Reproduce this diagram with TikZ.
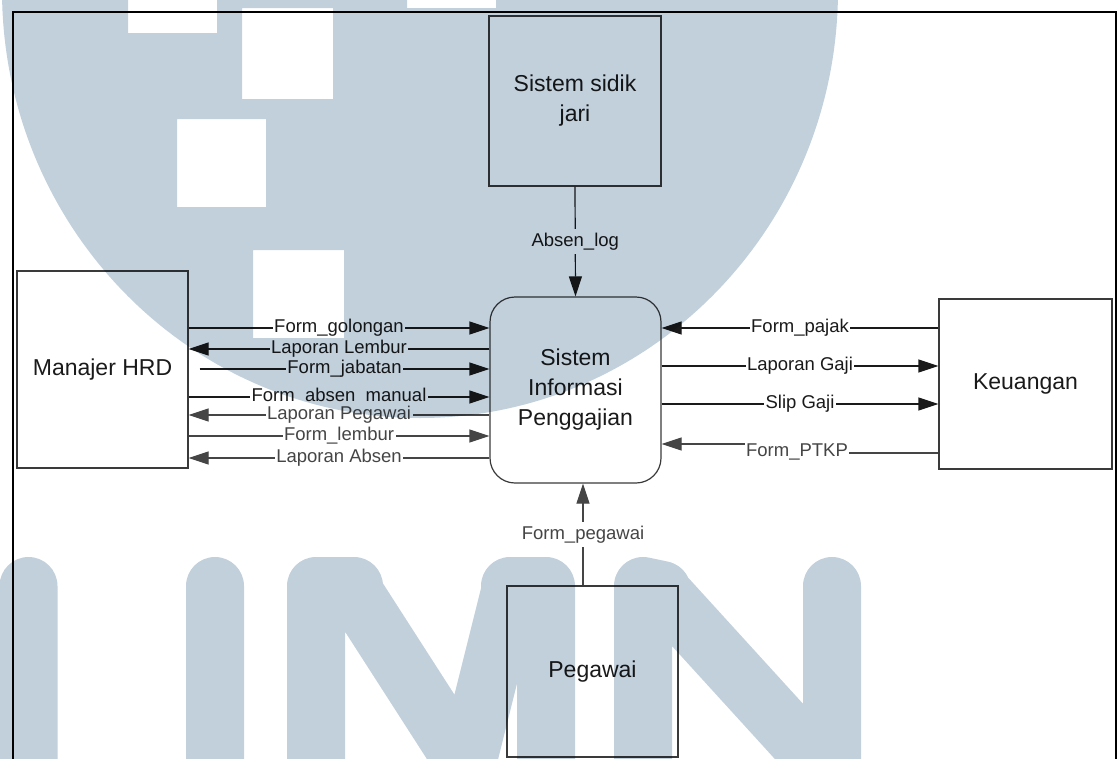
\documentclass[tikz,border=0pt]{standalone}
\usepackage{fontspec}
\setmainfont{Liberation Sans}
\usetikzlibrary{arrows.meta}

\definecolor{ink}{HTML}{1A1A1A}
\definecolor{inkgray}{HTML}{454545}
\definecolor{boxline}{HTML}{3A3A3A}
\definecolor{wmblue}{HTML}{C2D0DC}

\tikzset{
  entity/.style={draw=boxline, line width=1.2pt, align=center, inner sep=0pt,
    font=\fontsize{23}{30}\selectfont, text=ink},
  flow/.style={draw=ink, line width=1.2pt, -{Triangle[length=20pt,width=13pt]}},
  flowgray/.style={flow, draw=inkgray},
  lbl/.style={fill=white, inner xsep=1.5pt, inner ysep=3.5pt, font=\fontsize{18.5}{20}\selectfont, text=ink},
  lblgray/.style={lbl, text=inkgray},
}

\begin{document}
\begin{tikzpicture}[x=1pt, y=-1pt, line cap=butt, line join=miter]

  %% ==== frame ====
  \draw[black, line width=2.5pt] (13,780) -- (13,12) -- (1116,12) -- (1116,780);

  %% ==== entities ====
  \node[entity, minimum width=172pt, minimum height=170pt] (sidik) at (575,101) {Sistem sidik\\jari};
  \node[entity, rounded corners=25pt, minimum width=171pt, minimum height=186pt] (proc) at (575.5,390) {Sistem\\Informasi\\Penggajian};
  \node[entity, minimum width=171pt, minimum height=197pt] (hrd) at (102.5,369.5) {Manajer HRD};
  \node[entity, minimum width=173pt, minimum height=170pt] (keu) at (1025.5,384) {Keuangan};
  \node[entity, minimum width=171pt, minimum height=171pt] (pgw) at (592.5,671.5) {Pegawai};

  %% ==== flows: Manajer HRD <-> proses ====
  \draw[flow] (hrd.east |- 0,328) -- node[lbl] {Form\_golongan} (proc.west |- 0,328);
  \draw[flow] (proc.west |- 0,349) -- node[lbl] {Laporan Lembur} (hrd.east |- 0,349);
  \draw[flow] ([xshift=11pt]hrd.east |- 0,369) -- node[lbl] {Form\_jabatan} (proc.west |- 0,369);
  \draw[flow] (hrd.east |- 0,397) -- node[lbl] {Form\_absen\_manual} (proc.west |- 0,397);
  \draw[flowgray] (proc.west |- 0,415) -- node[lblgray] {Laporan Pegawai} (hrd.east |- 0,415);
  \draw[flowgray] (hrd.east |- 0,436) -- node[lblgray] {Form\_lembur} (proc.west |- 0,436);
  \draw[flowgray] (proc.west |- 0,458) -- node[lblgray] {Laporan Absen} (hrd.east |- 0,458);

  %% ==== flows: proses <-> Keuangan ====
  \draw[flow] (keu.west |- 0,328) -- node[lbl] {Form\_pajak} (proc.east |- 0,328);
  \draw[flow] (proc.east |- 0,366) -- node[lbl] {Laporan Gaji} (keu.west |- 0,366);
  \draw[flow] (proc.east |- 0,404) -- node[lbl] {Slip Gaji} (keu.west |- 0,404);
  \draw[flowgray] (keu.west |- 0,453) -- (770,453) -- (770,444) -- (proc.east |- 0,444);
  \node[lblgray] (ptkp) at (797,452) {Form\_PTKP};

  %% ==== flows: vertical ====
  \draw[flow] (sidik.south) -- node[lbl] {Absen\_log} (proc.north);
  \draw[flowgray] ([xshift=-9.5pt]pgw.north) -- node[lblgray] {Form\_pegawai} ([xshift=-9.5pt]pgw.north |- proc.south);

  %% ==== watermark (multiply, over everything) ====
  %% one path per paint so overlaps are not darkened twice
  \begin{scope}[blend mode=multiply]
    \fill[wmblue, even odd rule] (420,-10) ellipse (418 and 428)
      (128,-60) rectangle (217,33) (242,8) rectangle (333,99)
      (177,119) rectangle (266,207) (253,250) rectangle (344,338)
      (407,-80) rectangle (496,8);
    \draw[wmblue, line width=58pt, line cap=round]
      (28.5,800) -- (28.5,586)   (215,800) -- (215,586)            % U
      (316,800) -- (316,586)     (316,586) -- (354,586)            % M
      (354,592) -- (462,760)     (510,592) -- (468,760)
      (510,586) -- (546,586)     (546,800) -- (546,586)
      (643,800) -- (643,586)     (643,586) -- (662,590)            % N
      (662,592) -- (815,760)     (832,800) -- (832,586);
  \end{scope}

  \pgfresetboundingbox
  \path[use as bounding box] (0,0) rectangle (1119,758);
\end{tikzpicture}
\end{document}
